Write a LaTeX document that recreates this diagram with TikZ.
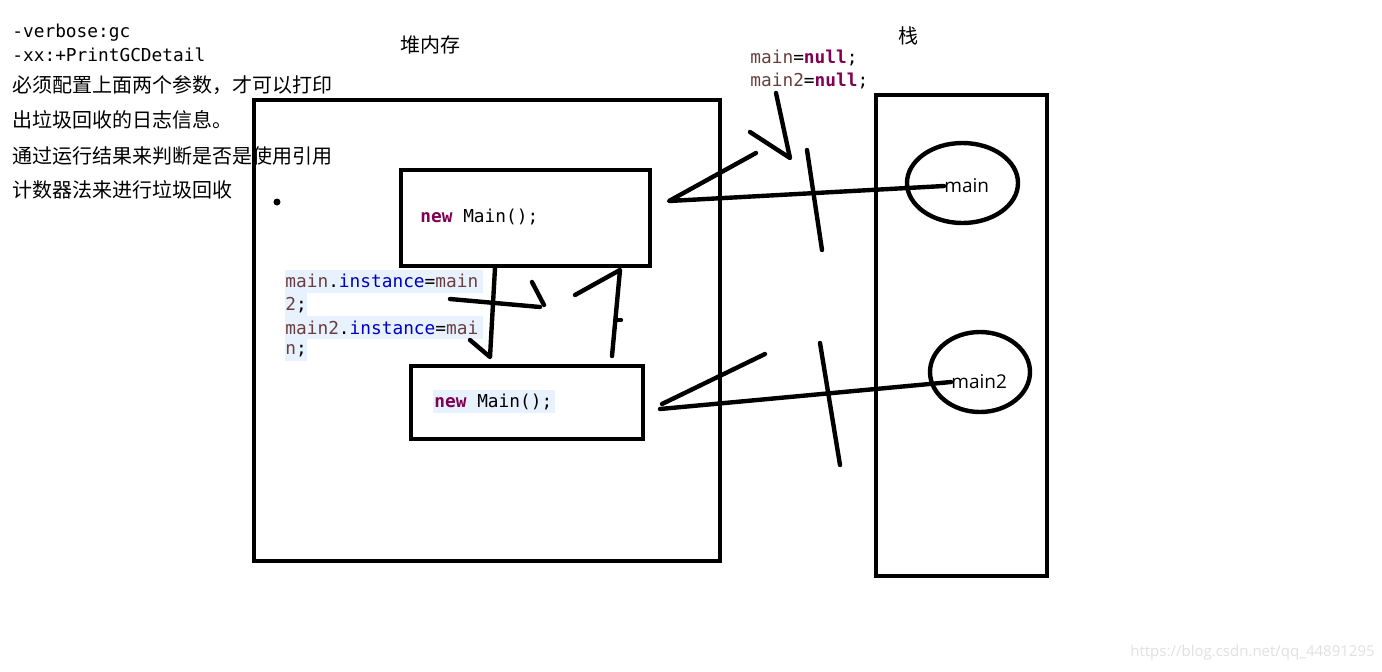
\documentclass[tikz,border=0pt]{standalone}
\usepackage{fontspec}
\setmainfont{Open Sans}
\setmonofont{DejaVu Sans Mono}
\newfontfamily\cjk{Noto Sans CJK SC}
\usetikzlibrary{shapes.geometric}
\definecolor{jvar}{HTML}{6A3E3E}
\definecolor{jfield}{HTML}{0000C0}
\definecolor{jkw}{HTML}{7F0055}
\definecolor{hl}{HTML}{E8F2FE}
\tikzset{
  pen/.style={line width=2.2pt, line cap=round, line join=round},
  box/.style={draw, line width=2.2pt, inner sep=0pt},
  oval/.style={draw, ellipse, line width=2.2pt, inner sep=0pt},
  code/.style={font=\ttfamily\fontsize{8.9}{11.5}\selectfont, inner sep=0pt, anchor=west},
  cn/.style={font=\cjk\fontsize{10}{12}\selectfont, inner sep=0pt, anchor=west},
  lbl/.style={font=\fontsize{9.5}{11}\selectfont, inner sep=0pt, anchor=west, text=black}
}
\begin{document}
\begin{tikzpicture}[x=0.5pt,y=-0.5pt]
\useasboundingbox (0,0) rectangle (1382,671);
% left notes
\node[code] (n1) at (12,33) {-verbose:gc};
\node[code] (n2) at (12,55) {-xx:+PrintGCDetail};
\node[cn] (c1) at (12,85) {必须配置上面两个参数，才可以打印};
\node[cn] (c2) at (12,120) {出垃圾回收的日志信息。};
\node[cn] (c3) at (12,156) {通过运行结果来判断是否是使用引用};
\node[cn] (c4) at (12,190) {计数器法来进行垃圾回收};
% titles
\node[font=\cjk\fontsize{10}{12}\selectfont, inner sep=0pt] (heapt) at (430,45) {堆内存};
\node[font=\cjk\fontsize{10}{12}\selectfont, inner sep=0pt] (stackt) at (908,36) {栈};
% null assignment
\node[code] (null1) at (750,58) {\textcolor{jvar}{main}=\textcolor{jkw}{\bfseries null};};
\node[code] (null2) at (750,81) {\textcolor{jvar}{main2}=\textcolor{jkw}{\bfseries null};};
% highlights for instance code
\fill[hl] (285,270) rectangle (483,293);
\fill[hl] (285,293) rectangle (307,316);
\fill[hl] (285,316) rectangle (483,339);
\fill[hl] (285,339) rectangle (307,361);
\node[code] (i1) at (285,281) {\textcolor{jvar}{main}.\textcolor{jfield}{instance}=\textcolor{jvar}{main}};
\node[code] (i2) at (285,305) {\textcolor{jvar}{2};};
\node[code] (i3) at (285,328) {\textcolor{jvar}{main2}.\textcolor{jfield}{instance}=\textcolor{jvar}{mai}};
\node[code] (i4) at (285,351) {\textcolor{jvar}{n};};
% containers
\node[box, minimum width=233pt, minimum height=230.5pt] (heap) at (487,330.5) {};
\node[box, minimum width=85.5pt, minimum height=240.5pt] (stack) at (961.5,335.5) {};
\node[box, minimum width=124.5pt, minimum height=48pt] (objA) at (525.5,218) {};
\node[box, minimum width=116pt, minimum height=36.5pt] (objB) at (527,402.5) {};
\fill[hl] (433,390) rectangle (555,413);
\node[code] (newA) at (420,217) {\textcolor{jkw}{\bfseries new} Main();};
\node[code] (newB) at (434,402) {\textcolor{jkw}{\bfseries new} Main();};
\fill (277,202) circle (3.5);
% stack variables
\node[oval, minimum width=55.5pt, minimum height=40pt] (ovA) at (962.5,183) {};
\node[oval, minimum width=50pt, minimum height=40pt] (ovB) at (980,372) {};
\node[lbl] (mainl) at (944,186) {main};
\node[lbl] (main2l) at (951,382) {main2};
% reference main -> objA
\coordinate (a1) at (669,201);
\coordinate (a1b) at (756,153);
\draw[pen] (mainl.west) -- (a1) -- (a1b);
\coordinate (x1s) at (807,150);
\coordinate (x1e) at (822,250);
\draw[pen] (x1s) -- (x1e);
% reference main2 -> objB
\coordinate (b1) at (660,409);
\coordinate (b1b) at (765,354);
\draw[pen] (main2l.west) -- (b1);
\draw[pen] (662,404) -- (b1b);
\coordinate (x2s) at (820,343);
\coordinate (x2e) at (840,465);
\draw[pen] (x2s) -- (x2e);
% arrow from null statements
\coordinate (nt) at (776,93);
\coordinate (nh) at (790,158);
\coordinate (nb) at (750,132);
\draw[pen] (nt) -- (nh) -- (nb);
% objA -> objB (instance)
\coordinate (d1) at (495,268);
\coordinate (d2) at (490,357);
\coordinate (d3) at (470,340);
\draw[pen] (d1) -- (d2) -- (d3);
% objB -> objA (instance)
\coordinate (u1) at (612,356);
\coordinate (u2) at (620,270);
\coordinate (u3) at (575,295);
\draw[pen] (u1) -- (u2) -- (u3);
\draw[pen] (617,320) -- (621,320);
% crossing mark
\coordinate (k1) at (450,299);
\coordinate (k2) at (540,307);
\coordinate (k3) at (532,282);
\draw[pen] (k1) -- (k2);
\draw[pen] (k3) -- (544,305);
% watermark
\node[font=\fontsize{7.5}{9}\selectfont, text=black!12, inner sep=0pt, anchor=west] (wm) at (1130,653) {https://blog.csdn.net/qq\_44891295};
\end{tikzpicture}
\end{document}
